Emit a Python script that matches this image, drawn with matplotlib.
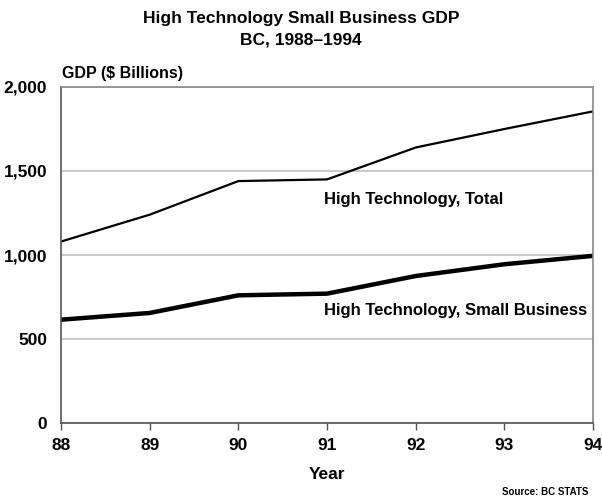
import matplotlib
matplotlib.use("Agg")
import matplotlib.pyplot as plt

plt.rcParams["font.family"] = ["Liberation Sans", "DejaVu Sans"]
plt.rcParams["font.weight"] = "bold"

years = [88, 89, 90, 91, 92, 93, 94]
total = [1080, 1240, 1440, 1450, 1640, 1750, 1855]
small_business = [615, 655, 760, 770, 875, 945, 995]
yticks = [0, 500, 1000, 1500, 2000]
ytick_labels = ["0", "500", "1,000", "1,500", "2,000"]

fig = plt.figure(figsize=(6.02, 5.0), dpi=100)
ax = fig.add_axes([0.1013, 0.154, 0.884, 0.672])

ax.plot(years, total, color="black", linewidth=1.6, solid_joinstyle="round")
ax.plot(years, small_business, color="black", linewidth=3.2, solid_joinstyle="round")

ax.set_xlim(88, 94)
ax.set_ylim(0, 2000)
ax.set_xticks(years)
ax.set_xticklabels([str(y) for y in years], fontsize=12.5, fontweight="bold")
ax.set_yticks(yticks)
ax.set_yticklabels(ytick_labels, fontsize=12.5, fontweight="bold")
ax.yaxis.grid(True, color="#c0c0c0", linewidth=1.2)
ax.set_axisbelow(True)
ax.tick_params(axis="x", direction="out", length=5, width=1, color="#555555", pad=6)
ax.tick_params(axis="y", length=0, pad=10)
for side in ["left", "bottom"]:
    ax.spines[side].set_color("#555555")
    ax.spines[side].set_linewidth(1.2)
for side in ["top", "right"]:
    ax.spines[side].set_color("#888888")
    ax.spines[side].set_linewidth(1.2)

ax.set_xlabel("Year", fontsize=12.5, fontweight="bold", labelpad=10)

ax.text(90.96, 1330, "High Technology, Total", fontsize=12, fontweight="bold", va="center")
ax.text(90.96, 670, "High Technology, Small Business", fontsize=12, fontweight="bold", va="center")

fig.text(0.5, 0.963, "High Technology Small Business GDP", ha="center", va="center",
         fontsize=12.5, fontweight="bold")
fig.text(0.5, 0.92, "BC, 1988\u20131994", ha="center", va="center",
         fontsize=12.5, fontweight="bold")
fig.text(0.103, 0.853, "GDP ($ Billions)", ha="left", va="center",
         fontsize=11.5, fontweight="bold")
fig.text(0.977, 0.016, "Source: BC STATS", ha="right", va="center",
         fontsize=7, fontweight="bold")

fig.savefig("out.png", dpi=100)
